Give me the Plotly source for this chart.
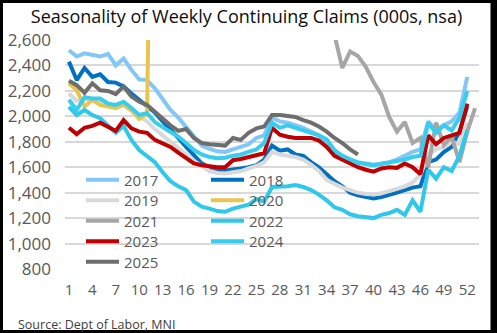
import plotly.graph_objects as go

weeks = list(range(1, 54))
tick_weeks = list(range(1, 53, 3))

y2017 = [2520, 2470, 2495, 2480, 2470, 2490, 2400, 2455, 2365, 2290, 2285, 2220, 2140, 2050, 1990, 1920, 1850, 1770, 1745, 1725,
         1720, 1740, 1760, 1780, 1830, 1850, 1990, 1960, 1950, 1930, 1910, 1880, 1850, 1790, 1720, 1690, 1660, 1640, 1630, 1620,
         1630, 1640, 1660, 1690, 1720, 1740, 1960, 1890, 1930, 1960, 2030, 2310]
y2018 = [2430, 2285, 2380, 2310, 2330, 2270, 2265, 2235, 2180, 2130, 2075, 2030, 1960, 1900, 1830, 1760, 1690, 1630, 1600, 1580,
         1575, 1580, 1590, 1600, 1615, 1660, 1770, 1730, 1740, 1700, 1690, 1640, 1600, 1545, 1490, 1450, 1400, 1380, 1370, 1355,
         1365, 1380, 1400, 1420, 1440, 1450, 1640, 1660, 1720, 1760, 1880, 2080]
y2019 = [2180, 2120, 2140, 2120, 2110, 2100, 2080, 2090, 2040, 2000, 1960, 1900, 1850, 1790, 1740, 1690, 1650, 1610, 1570, 1555,
         1550, 1560, 1570, 1590, 1610, 1640, 1720, 1700, 1690, 1680, 1660, 1620, 1570, 1500, 1470, 1440, 1420, 1400, 1390, 1385,
         1395, 1410, 1430, 1450, 1480, 1540, 1700, 1740, 1760, 1800, 1780, 1950]
y2020 = [2260, 2205, 2075, 2130, 2090, 2080, 2065, 2090, 2050, 1980, 2020, 6000, 9000]
y2021 = [None] * 33 + [2800, 2640, 2380, 2510, 2475, 2390, 2270, 2170, 1995, 1880, 1955, 1790, 1830, 1600, 1950, 1775, 1840,
                      1640, 1880, 2065]
y2022 = [2075, 2010, 2050, 2010, 1985, 1930, 1870, 1925, 1815, 1735, 1690, 1640, 1560, 1490, 1450, 1420, 1330, 1290, 1275, 1255,
         1250, 1275, 1290, 1305, 1350, 1330, 1445, 1445, 1450, 1460, 1445, 1420, 1385, 1340, 1285, 1265, 1230, 1215, 1205, 1200,
         1225, 1240, 1265, 1225, 1340, 1250, 1580, 1510, 1600, 1570, 1690, 1890]
y2023 = [1910, 1860, 1910, 1925, 1950, 1915, 1885, 1970, 1905, 1880, 1870, 1815, 1790, 1760, 1715, 1670, 1630, 1615, 1605, 1600,
         1600, 1655, 1665, 1680, 1690, 1710, 1910, 1855, 1840, 1830, 1830, 1830, 1810, 1760, 1690, 1660, 1630, 1600, 1580, 1565,
         1590, 1600, 1595, 1630, 1600, 1545, 1850, 1780, 1830, 1850, 1870, 2100]
y2024 = [2130, 2050, 2150, 2140, 2140, 2100, 2090, 2115, 2065, 2010, 2025, 1955, 1915, 1880, 1840, 1790, 1735, 1700, 1680, 1670,
         1675, 1690, 1700, 1720, 1740, 1790, 1950, 1910, 1930, 1910, 1890, 1870, 1850, 1820, 1735, 1690, 1660, 1635, 1625, 1615,
         1625, 1635, 1650, 1660, 1680, 1690, 1950, 1870, 1930, 1890, 1990, 2200]
y2025 = [2280, 2245, 2185, 2260, 2205, 2200, 2175, 2235, 2155, 2115, 2090, 2035, 1985, 1930, 1885, 1900, 1830, 1790, 1780, 1775,
         1770, 1830, 1815, 1870, 1905, 1920, 2010, 2010, 2005, 1995, 1970, 1950, 1920, 1880, 1830, 1790, 1740, 1700]

series = [
    ("2017", y2017, "#82c7f7", "legend"),
    ("2018", y2018, "#0070c0", "legend"),
    ("2019", y2019, "#d9d9d9", "legend2"),
    ("2020", y2020, "#e8c54f", "legend2"),
    ("2021", y2021, "#a6a6a6", "legend3"),
    ("2022", y2022, "#2fc8ea", "legend3"),
    ("2023", y2023, "#c00000", "legend4"),
    ("2024", y2024, "#36cdee", "legend4"),
    ("2025", y2025, "#6e6e6e", "legend5"),
]

FONT = "Open Sans"
fig = go.Figure()
for name, vals, color, lg in series:
    fig.add_trace(go.Scatter(
        x=weeks[:len(vals)], y=vals, name=name, mode="lines",
        line=dict(color=color, width=4), legend=lg, connectgaps=False,
    ))

W, H = 497, 333
L, R, T, B = 65, 18, 40, 64
pw, ph = W - L - R, H - T - B


def leg(row_center_px):
    return dict(
        orientation="h", entrywidth=77, entrywidthmode="pixels",
        bgcolor="rgba(0,0,0,0)", borderwidth=0, itemwidth=33,
        font=dict(family=FONT, size=15, color="#595959"),
        x=(81 - L) / pw, xanchor="left",
        y=(H - B - row_center_px) / ph, yanchor="middle",
    )


fig.update_layout(
    width=W, height=H,
    margin=dict(l=L, r=R, t=T, b=B, autoexpand=False),
    paper_bgcolor="white", plot_bgcolor="white",
    title=dict(text="Seasonality of Weekly Continuing Claims (000s, nsa)",
               x=0.496, xref="container", xanchor="center", y=1 - 17 / H, yanchor="middle",
               font=dict(family=FONT, size=18, color="#0d0d0d")),
    xaxis=dict(range=[0.5, 53.5], tickmode="array", tickvals=tick_weeks,
               showgrid=False, zeroline=False, showline=False, ticks="",
               tickfont=dict(family=FONT, size=15, color="#595959"),
               ticklabelstandoff=10, automargin=False, fixedrange=True),
    yaxis=dict(range=[800, 2600], tickmode="linear", tick0=800, dtick=200,
               tickformat=",", showgrid=True, gridcolor="#d9d9d9", gridwidth=2,
               zeroline=False, showline=False, ticks="",
               tickfont=dict(family=FONT, size=17, color="#595959"),
               ticklabelstandoff=13, automargin=False, fixedrange=True),
    legend=leg(180),
    legend2=leg(200.5),
    legend3=leg(221),
    legend4=leg(241.5),
    legend5=leg(262),
    showlegend=True,
)

fig.add_annotation(text="Source: Dept of Labor, MNI", xref="paper", yref="paper",
                   x=(16 - L) / pw, y=-(324 - (H - B)) / ph, xanchor="left", yanchor="middle",
                   showarrow=False, font=dict(family=FONT, size=12.5, color="#404040"))

# black frame around the whole image
fig.add_shape(type="rect", xref="paper", yref="paper",
              x0=(1.5 - L) / pw, x1=(492 - L) / pw,
              y0=-(331.5 - (H - B)) / ph, y1=(H - B - 1.5) / ph,
              line=dict(color="black", width=3), fillcolor="rgba(0,0,0,0)", layer="above")
fig.add_shape(type="rect", xref="paper", yref="paper",
              x0=(491 - L) / pw, x1=(497 - L) / pw,
              y0=-(333 - (H - B)) / ph, y1=(H - B) / ph,
              line=dict(width=0), fillcolor="black", layer="above")

fig.write_html("out.html")
